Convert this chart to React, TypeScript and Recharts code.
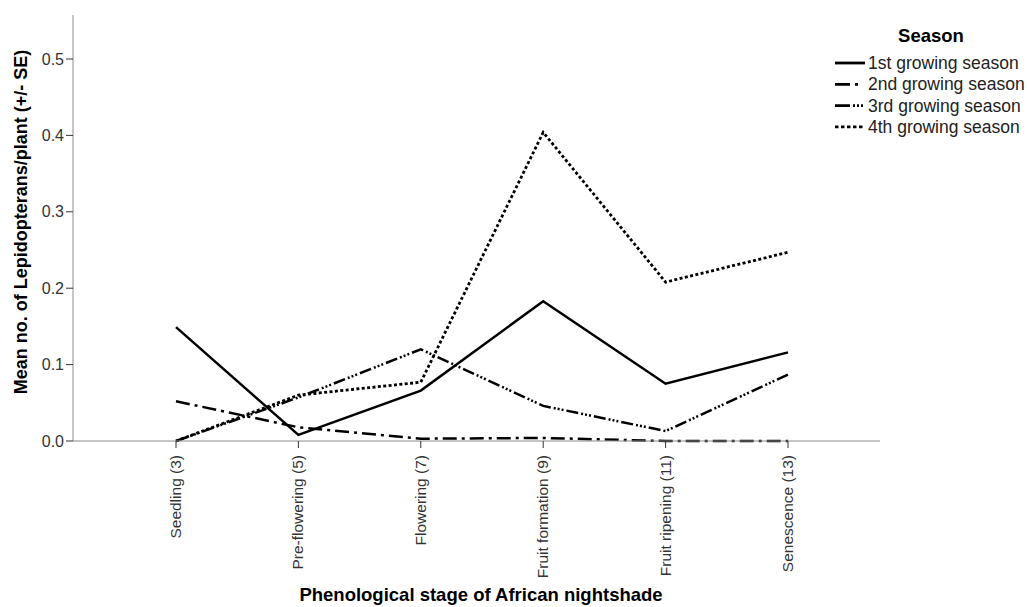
import React from "react";
import { LineChart, Line, XAxis, YAxis } from "recharts";

const stages = [
  "Seedling (3)",
  "Pre-flowering (5)",
  "Flowering (7)",
  "Fruit formation (9)",
  "Fruit ripening (11)",
  "Senescence (13)",
];
const season1 = [0.149, 0.008, 0.066, 0.183, 0.075, 0.116];
const season2 = [0.052, 0.018, 0.003, 0.004, 0.0, 0.0];
const season3 = [0.0, 0.057, 0.12, 0.046, 0.013, 0.087];
const season4 = [0.0, 0.06, 0.077, 0.404, 0.208, 0.247];
const yTicks = [0, 0.1, 0.2, 0.3, 0.4, 0.5];
const seriesNames = [
  "1st growing season",
  "2nd growing season",
  "3rd growing season",
  "4th growing season",
];
const dashes = ["", "14 5 3 5", "12 3 2 2 2 2 2 3", "3 2.4"];
const legendDashes = ["", "15 5 3 20", "15 3 2 2 2 2 2 20", "3.5 2.5"];

const data = stages.map((s, i) => ({
  stage: s,
  s1: season1[i],
  s2: season2[i],
  s3: season3[i],
  s4: season4[i],
}));

const FONT = "'Liberation Sans', Arial, sans-serif";

const XTick = (props: any) => {
  const { x, y, payload } = props;
  const tx = x + 5;
  const ty = y + 5;
  return (
    <text
      x={tx}
      y={ty}
      transform={`rotate(-90 ${tx} ${ty})`}
      textAnchor="end"
      fontSize={15.5}
      fontFamily={FONT}
      fill="#333"
    >
      {payload.value}
    </text>
  );
};

export default function App() {
  return (
    <div style={{ position: "absolute", left: 0, top: 0, width: 1027, height: 607, background: "#fff" }}>
      <LineChart
        width={1027}
        height={607}
        data={data}
        margin={{ top: 15, right: 147, bottom: 0, left: 0 }}
      >
        <XAxis
          dataKey="stage"
          padding={{ left: 103, right: 92 }}
          interval={0}
          height={166}
          tick={<XTick />}
          tickSize={7}
          axisLine={{ stroke: "#8c8c8c" }}
          tickLine={{ stroke: "#333" }}
        />
        <YAxis
          width={73}
          domain={[0, 0.5576]}
          ticks={yTicks}
          tickFormatter={(v: number) => v.toFixed(1)}
          tickSize={7}
          tickMargin={2}
          tick={{ fontSize: 16, fontFamily: FONT, fill: "#333" }}
          axisLine={{ stroke: "#8c8c8c" }}
          tickLine={{ stroke: "#333" }}
        />
        <Line dataKey="s1" stroke="#000" strokeWidth={2.5} dot={false} isAnimationActive={false} />
        <Line dataKey="s2" stroke="#000" strokeWidth={2.5} strokeDasharray={dashes[1]} dot={false} isAnimationActive={false} />
        <Line dataKey="s3" stroke="#000" strokeWidth={2.5} strokeDasharray={dashes[2]} dot={false} isAnimationActive={false} />
        <Line dataKey="s4" stroke="#000" strokeWidth={2.8} strokeDasharray={dashes[3]} dot={false} isAnimationActive={false} />
      </LineChart>
      <div
        style={{
          position: "absolute",
          left: 21,
          top: 222,
          transform: "translate(-50%, -50%) rotate(-90deg)",
          whiteSpace: "nowrap",
          fontFamily: FONT,
          fontWeight: "bold",
          fontSize: 18,
          color: "#000",
        }}
      >
        Mean no. of Lepidopterans/plant (+/- SE)
      </div>
      <div
        style={{
          position: "absolute",
          left: 481,
          top: 595,
          transform: "translate(-50%, -50%)",
          whiteSpace: "nowrap",
          fontFamily: FONT,
          fontWeight: "bold",
          fontSize: 18.5,
          color: "#000",
        }}
      >
        Phenological stage of African nightshade
      </div>
      <svg style={{ position: "absolute", left: 820, top: 15 }} width={207} height={130}>
        <text x={111} y={27} textAnchor="middle" fontFamily={FONT} fontWeight="bold" fontSize={18.5} fill="#000">
          Season
        </text>
        {seriesNames.map((n, i) => (
          <g key={n}>
            <line
              x1={15}
              x2={45}
              y1={48 + i * 21.3}
              y2={48 + i * 21.3}
              stroke="#000"
              strokeWidth={2.8}
              strokeDasharray={legendDashes[i] || undefined}
            />
            <text x={48} y={54 + i * 21.3} fontFamily={FONT} fontSize={17.5} fill="#222">
              {n}
            </text>
          </g>
        ))}
      </svg>
    </div>
  );
}
